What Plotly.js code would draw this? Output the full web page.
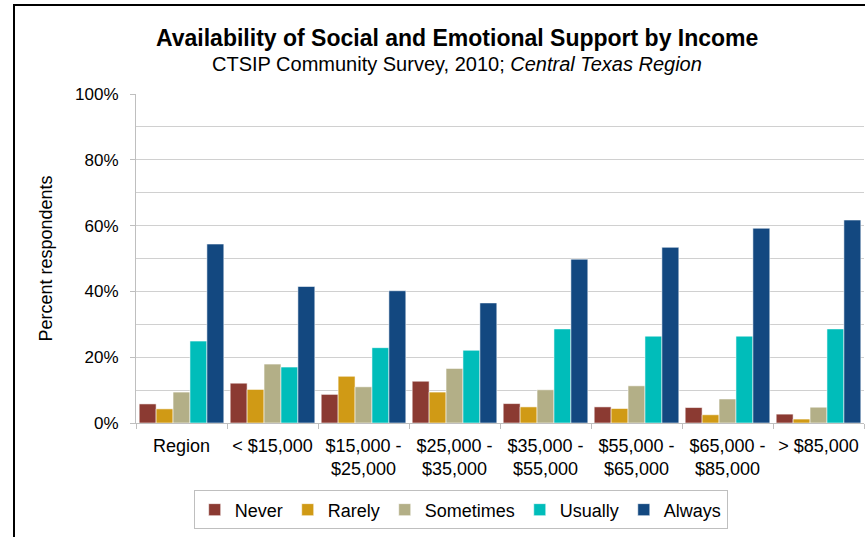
<!DOCTYPE html>
<html>
<head>
<meta charset="utf-8">
<script src="https://cdn.plot.ly/plotly-3.0.1.min.js"></script>
<style>
html,body{margin:0;padding:0;background:#fff;}
#wrap{position:relative;width:865px;height:537px;overflow:hidden;}
#chart{width:865px;height:537px;}
#frame{position:absolute;left:13px;top:4px;width:900px;height:600px;border:2px solid #000;pointer-events:none;}
</style>
</head>
<body>
<div id="wrap"><div id="chart"></div><div id="frame"></div></div>
<script>
var categories = ["Region", "< $15,000", "$15,000 -<br>$25,000", "$25,000 -<br>$35,000", "$35,000 -<br>$55,000", "$55,000 -<br>$65,000", "$65,000 -<br>$85,000", "> $85,000"];
var never     = [5.8, 12.1, 8.7, 12.7, 5.9, 4.9, 4.7, 2.7];
var rarely    = [4.3, 10.2, 14.2, 9.4, 4.9, 4.4, 2.5, 1.2];
var sometimes = [9.4, 17.9, 11.0, 16.6, 10.1, 11.3, 7.3, 4.8];
var usually   = [24.9, 17.0, 22.9, 22.1, 28.6, 26.4, 26.4, 28.6];
var always    = [54.4, 41.5, 40.2, 36.5, 49.8, 53.4, 59.2, 61.7];
var seriesNames = ["Never", "Rarely", "Sometimes", "Usually", "Always"];
var seriesColors = ["#8B3A32", "#D09A15", "#B3AF87", "#00BDBA", "#134880"];
var seriesValues = [never, rarely, sometimes, usually, always];

var traces = seriesNames.map(function(n, i){
  return {
    type: "bar", name: n, x: categories, y: seriesValues[i],
    marker: {color: seriesColors[i], line: {color: "rgba(255,255,255,0.55)", width: 1}},
    hoverinfo: "y+name"
  };
});

var font = "Liberation Sans, Arial, sans-serif";
var layout = {
  width: 865, height: 537,
  paper_bgcolor: "#fff", plot_bgcolor: "#fff",
  margin: {l: 136, r: 1, t: 94, b: 114},
  barmode: "group", bargap: 0.07, bargroupgap: 0,
  font: {family: font, color: "#000", size: 18},
  showlegend: true,
  legend: {orientation: "h", x: 0.446, xanchor: "center", y: -0.205, yanchor: "top",
           bordercolor: "#BFBFBF", borderwidth: 1, font: {size: 18}, itemwidth: 30,
           traceorder: "normal"},
  xaxis: {type: "category", showgrid: false, showline: true, linecolor: "#BFBFBF", linewidth: 1,
          ticks: "outside", tickson: "boundaries", ticklen: 5, tickcolor: "#BFBFBF",
          ticklabelstandoff: 6, tickfont: {size: 18}, fixedrange: true},
  yaxis: {range: [0, 100], dtick: 20, ticksuffix: "%", showgrid: true, gridcolor: "#D0D0D0", gridwidth: 1,
          minor: {dtick: 10, showgrid: true, gridcolor: "#D0D0D0", gridwidth: 1},
          showline: true, linecolor: "#BFBFBF", linewidth: 1, zeroline: false,
          ticks: "outside", ticklen: 5, tickcolor: "#BFBFBF", ticklabelstandoff: 8,
          tickfont: {size: 17}, fixedrange: true},
  annotations: [
    {text: "<b>Availability of Social and Emotional Support by Income</b>", xref: "paper", yref: "paper",
     x: 0.441, y: (423 - 38) / 329, xanchor: "center", yanchor: "middle", showarrow: false, font: {size: 23}},
    {text: "CTSIP Community Survey, 2010; <i>Central Texas Region</i>", xref: "paper", yref: "paper",
     x: 0.441, y: (423 - 64) / 329, xanchor: "center", yanchor: "middle", showarrow: false, font: {size: 20}},
    {text: "Percent respondents", xref: "paper", yref: "paper", textangle: -90,
     x: -0.125, y: 0.50, xanchor: "center", yanchor: "middle", showarrow: false, font: {size: 18}}
  ]
};
Plotly.newPlot("chart", traces, layout, {displayModeBar: false, staticPlot: true});
</script>
</body>
</html>
